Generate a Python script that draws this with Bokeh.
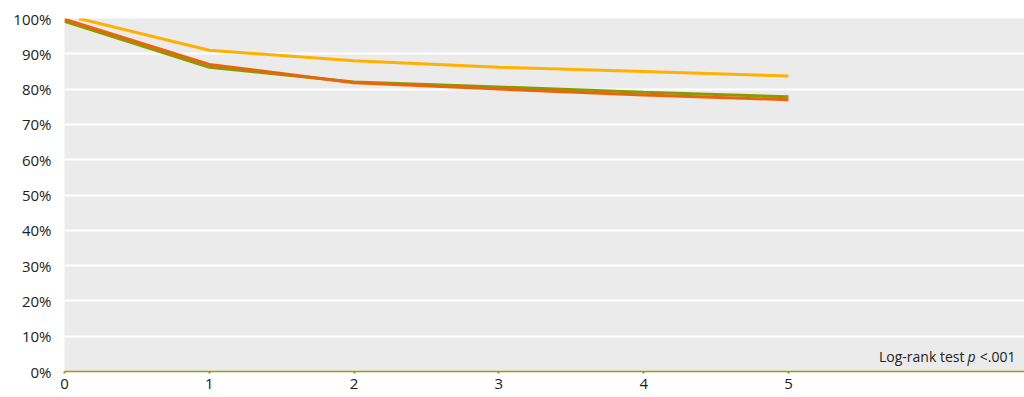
from bokeh.plotting import figure
from bokeh.models import FixedTicker, NumeralTickFormatter, Range1d, Label
from bokeh.embed import file_html
from bokeh.resources import INLINE

years_a = [0.1, 1, 2, 3, 4, 5]
surv_yellow = [1.00, 0.91, 0.88, 0.862, 0.85, 0.837]
years = [0, 1, 2, 3, 4, 5]
surv_orange = [0.998, 0.87, 0.818, 0.80, 0.783, 0.770]
surv_green = [0.992, 0.862, 0.82, 0.806, 0.791, 0.778]
y_ticks = [i / 10 for i in range(11)]
x_ticks = [0, 1, 2, 3, 4, 5]

FONT = "Open Sans"
p = figure(width=1024, frame_width=960, frame_height=353, output_backend="svg",
           toolbar_location=None, x_range=Range1d(0, 6.63), y_range=Range1d(0, 1.0),
           min_border_left=64, min_border_top=18, min_border_right=0, min_border_bottom=10)
p.background_fill_color = "#ebebeb"
p.border_fill_color = "white"
p.outline_line_color = None

p.xgrid.visible = False
p.ygrid.grid_line_color = "white"
p.ygrid.grid_line_width = 2
p.ygrid.ticker = FixedTicker(ticks=y_ticks)

p.yaxis.ticker = FixedTicker(ticks=y_ticks)
p.yaxis.formatter = NumeralTickFormatter(format="0%")
p.yaxis.axis_line_color = None
p.yaxis.major_tick_line_color = None
p.yaxis.minor_tick_line_color = None
p.yaxis.major_label_standoff = 7

p.xaxis.ticker = FixedTicker(ticks=x_ticks)
p.xaxis.axis_line_color = "#9a9a10"
p.xaxis.axis_line_width = 1.5
p.xaxis.major_tick_line_color = "#9a9a10"
p.xaxis.major_tick_line_width = 2
p.xaxis.major_tick_out = 2
p.xaxis.major_tick_in = 0
p.xaxis.minor_tick_line_color = None
p.xaxis.major_label_standoff = 5

for ax in (p.xaxis, p.yaxis):
    ax.major_label_text_font = FONT
    ax.major_label_text_font_size = "15px"
    ax.major_label_text_color = "#222222"

p.line(years_a, surv_yellow, line_color="#ffb000", line_width=3)
p.line(years, surv_green, line_color="#8a9a00", line_width=3)
p.line(years, surv_orange, line_color="#eb6409", line_width=3)

common = dict(y=0.042, text_font=FONT, text_font_size="14px", text_color="#222222",
              text_baseline="alphabetic", text_align="right")
p.add_layout(Label(x=6.568, text="<.001", **common))
p.add_layout(Label(x=6.292, text="p", text_font_style="italic", **common))
p.add_layout(Label(x=6.215, text="Log-rank test", **common))

open("out.html", "w").write(file_html(p, INLINE))
